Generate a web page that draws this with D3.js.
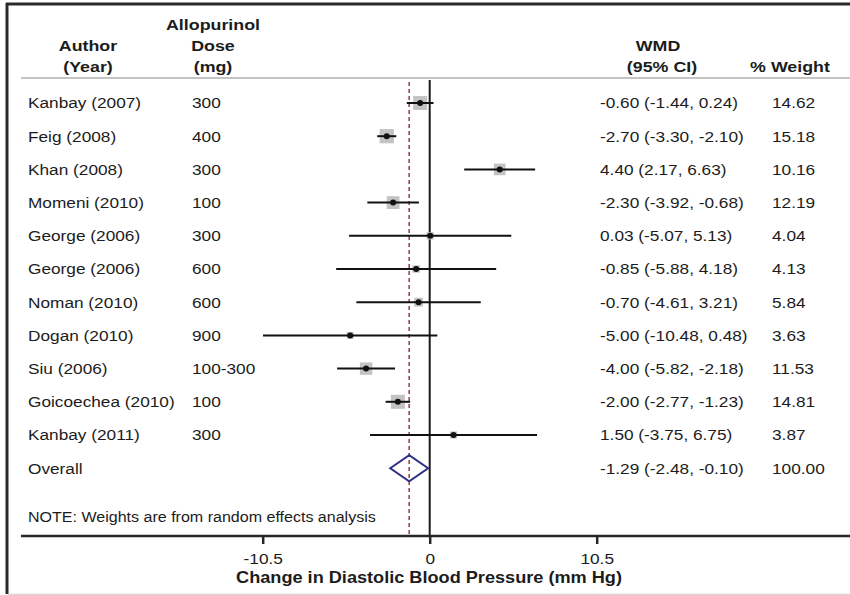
<!DOCTYPE html>
<html>
<head>
<meta charset="utf-8">
<script src="https://cdn.jsdelivr.net/npm/d3@7"></script>
<style>
  html, body { margin: 0; padding: 0; background: #fff; }
  svg { display: block; }
  text { font-family: "Liberation Sans", Arial, sans-serif; fill: #1c1c1c; }
</style>
</head>
<body>
<svg id="chart" width="850" height="595"></svg>
<script>
// ---- data ----
const authors = ["Kanbay (2007)", "Feig (2008)", "Khan (2008)", "Momeni (2010)", "George (2006)",
  "George (2006)", "Noman (2010)", "Dogan (2010)", "Siu (2006)", "Goicoechea (2010)", "Kanbay (2011)"];
const doses = ["300", "400", "300", "100", "300", "600", "600", "900", "100-300", "100", "300"];
const wmd = [-0.60, -2.70, 4.40, -2.30, 0.03, -0.85, -0.70, -5.00, -4.00, -2.00, 1.50];
const lower = [-1.44, -3.30, 2.17, -3.92, -5.07, -5.88, -4.61, -10.48, -5.82, -2.77, -3.75];
const upper = [0.24, -2.10, 6.63, -0.68, 5.13, 4.18, 3.21, 0.48, -2.18, -1.23, 6.75];
const weights = [14.62, 15.18, 10.16, 12.19, 4.04, 4.13, 5.84, 3.63, 11.53, 14.81, 3.87];
const overallLabel = "Overall";
const overallWmd = -1.29, overallLower = -2.48, overallUpper = -0.10, overallWeight = 100.00;
const tickValues = [-10.5, 0, 10.5];
const xTitle = "Change in Diastolic Blood Pressure (mm Hg)";
const note = "NOTE: Weights are from random effects analysis";

const svg = d3.select("#chart");
const f2 = d3.format(".2f");
const fmt = v => f2(v).replace("\u2212", "-");
const SX = 1.15; // horizontal stretch of the reference's lettering

function label(g, x, y, str, opt = {}) {
  const t = g.append("text")
    .attr("transform", `translate(${x},${y}) scale(${opt.sx || SX},1)`)
    .attr("font-size", opt.size || 15)
    .text(str);
  if (opt.anchor) t.attr("text-anchor", opt.anchor);
  if (opt.bold) t.attr("font-weight", "bold");
  if (opt.dy) t.attr("dy", opt.dy);
  return t;
}

const x = d3.scaleLinear().domain([-10.5, 10.5]).range([262.7, 596.7]);
const y = d3.scaleLinear().domain([0, 11]).range([103, 468.2]);
const side = d3.scaleSqrt().domain([0, 100]).range([0, 36.5]);

// frame
svg.append("line").attr("x1", 7).attr("x2", 7).attr("y1", 3).attr("y2", 594)
  .attr("stroke", "#2a2a2a").attr("stroke-width", 3);
svg.append("line").attr("x1", 6).attr("x2", 850).attr("y1", 4).attr("y2", 4)
  .attr("stroke", "#2a2a2a").attr("stroke-width", 3);
svg.append("line").attr("x1", 8).attr("x2", 850).attr("y1", 594.5).attr("y2", 594.5)
  .attr("stroke", "#d6d6d6").attr("stroke-width", 1.5);

// headers
const hdr = svg.append("g");
const H = { bold: true, size: 15.5, anchor: "middle" };
label(hdr, 88, 51, "Author", H);
label(hdr, 88, 72, "(Year)", H);
label(hdr, 213, 30, "Allopurinol", H);
label(hdr, 213, 51, "Dose", H);
label(hdr, 213, 72, "(mg)", H);
label(hdr, 658, 51, "WMD", H);
label(hdr, 662, 72, "(95% CI)", H);
label(hdr, 790, 72, "% Weight", H);
svg.append("line").attr("x1", 21).attr("x2", 850).attr("y1", 78).attr("y2", 78)
  .attr("stroke", "#c4c4c4").attr("stroke-width", 2);

// reference lines
svg.append("line").attr("x1", x(0)).attr("x2", x(0)).attr("y1", 80).attr("y2", 536)
  .attr("stroke", "#1a1a1a").attr("stroke-width", 2);
svg.append("line").attr("x1", x(overallWmd)).attr("x2", x(overallWmd)).attr("y1", 82).attr("y2", 536)
  .attr("stroke", "#a8434a").attr("stroke-width", 1.6).attr("stroke-dasharray", "4,3");

// study rows
const rows = svg.append("g");
const R = { size: 15, dy: "0.36em" };
authors.forEach((a, i) => {
  const yy = y(i);
  const s = side(weights[i]);
  svg.append("rect").attr("x", x(wmd[i]) - s / 2).attr("y", yy - s / 2)
    .attr("width", s).attr("height", s).attr("fill", "#c3c3c3");
  svg.append("line").attr("x1", x(lower[i])).attr("x2", x(upper[i])).attr("y1", yy).attr("y2", yy)
    .attr("stroke", "#111").attr("stroke-width", 2);
  svg.append("circle").attr("cx", x(wmd[i])).attr("cy", yy).attr("r", 3).attr("fill", "#111");
  label(rows, 28, yy, a, R);
  label(rows, 192, yy, doses[i], R);
  label(rows, 600, yy, `${fmt(wmd[i])} (${fmt(lower[i])}, ${fmt(upper[i])})`, R);
  label(rows, 772, yy, fmt(weights[i]), R);
});

// overall
const yo = y(authors.length);
const dh = 13;
svg.append("path")
  .attr("d", `M${x(overallLower)},${yo} L${x(overallWmd)},${yo - dh} L${x(overallUpper)},${yo} L${x(overallWmd)},${yo + dh} Z`)
  .attr("fill", "none").attr("stroke", "#2e2f86").attr("stroke-width", 2);
label(rows, 28, yo, overallLabel, R);
label(rows, 600, yo, `${fmt(overallWmd)} (${fmt(overallLower)}, ${fmt(overallUpper)})`, R);
label(rows, 772, yo, fmt(overallWeight), R);

// note
label(rows, 28, 517, note, { size: 15, dy: "0.36em", sx: 1.07 });

// axis
svg.append("line").attr("x1", 21).attr("x2", 850).attr("y1", 536).attr("y2", 536)
  .attr("stroke", "#262626").attr("stroke-width", 2.5);
const axis = d3.axisBottom(x).tickValues(tickValues).tickSize(8).tickPadding(9)
  .tickFormat(d => String(d));
const gAxis = svg.append("g").attr("transform", "translate(0,536)").call(axis);
gAxis.select(".domain").remove();
gAxis.selectAll(".tick line").attr("stroke", "#262626").attr("stroke-width", 2.5);
gAxis.selectAll(".tick text")
  .attr("font-size", 15)
  .attr("font-family", "Liberation Sans, Arial, sans-serif")
  .attr("fill", "#1c1c1c")
  .attr("transform", d => `translate(0,0)`)
  .each(function () {
    const t = d3.select(this);
    const yy = +t.attr("y");
    t.attr("transform", `translate(0,${yy}) scale(${SX},1)`).attr("y", 0);
  });
label(svg, 429, 583, xTitle, { size: 16.5, bold: true, anchor: "middle", sx: 1.1 });
</script>
</body>
</html>
